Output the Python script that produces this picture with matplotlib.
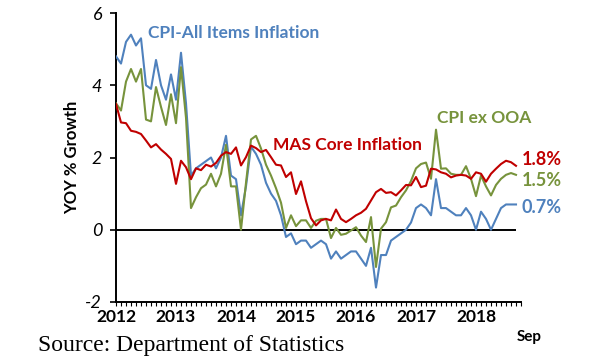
import matplotlib
matplotlib.use("Agg")
import matplotlib.pyplot as plt
import numpy as np

# monthly data, Jan 2012 .. Sep 2018 (81 months)
cpi_all = [4.8, 4.6, 5.2, 5.4, 5.1, 5.3, 4.0, 3.9, 4.7, 4.0, 3.6, 4.3,
           3.6, 4.9, 3.5, 1.5, 1.7, 1.8, 1.9, 2.0, 1.7, 2.0, 2.6, 1.5,
           1.4, 0.4, 1.2, 2.3, 2.1, 1.8, 1.3, 1.0, 0.8, 0.4, -0.2, -0.1,
           -0.4, -0.3, -0.3, -0.5, -0.4, -0.3, -0.4, -0.8, -0.6, -0.8, -0.7, -0.6,
           -0.6, -0.8, -1.0, -0.5, -1.6, -0.7, -0.7, -0.3, -0.2, -0.1, 0.0, 0.2,
           0.6, 0.7, 0.6, 0.4, 1.4, 0.6, 0.6, 0.5, 0.4, 0.4, 0.6, 0.4,
           0.0, 0.5, 0.3, 0.0, 0.3, 0.6, 0.7, 0.7, 0.7]
cpi_ex_ooa = [3.5, 3.3, 4.1, 4.45, 4.1, 4.45, 3.05, 3.0, 3.95, 3.4, 2.9, 3.75,
              2.95, 4.5, 3.1, 0.6, 0.9, 1.15, 1.25, 1.55, 1.2, 1.55, 2.35, 1.2,
              1.2, 0.0, 1.3, 2.5, 2.6, 2.25, 1.8, 1.5, 1.15, 0.75, 0.05, 0.4,
              0.1, 0.26, 0.26, 0.05, 0.25, 0.3, 0.3, -0.23, 0.05, -0.14, -0.11, -0.02,
              0.07, -0.16, -0.34, 0.35, -1.03, 0.03, 0.21, 0.62, 0.67, 0.9, 1.09, 1.35,
              1.7, 1.82, 1.86, 1.41, 2.77, 1.69, 1.7, 1.55, 1.52, 1.52, 1.76, 1.41,
              0.93, 1.5, 1.2, 0.95, 1.24, 1.41, 1.52, 1.57, 1.52]
mas_core = [3.48, 2.97, 2.95, 2.74, 2.71, 2.65, 2.47, 2.28, 2.37, 2.22, 2.1, 1.96,
            1.27, 1.91, 1.73, 1.4, 1.7, 1.65, 1.8, 1.75, 1.85, 2.05, 2.15, 2.1,
            2.28, 1.78, 2.01, 2.33, 2.26, 2.15, 2.21, 2.01, 1.8, 1.78, 1.46, 1.59,
            0.99, 1.34, 0.79, 0.32, 0.12, 0.26, 0.3, 0.26, 0.56, 0.3, 0.21, 0.3,
            0.4, 0.47, 0.58, 0.81, 1.04, 1.13, 1.02, 1.04, 0.95, 1.09, 1.24, 1.23,
            1.46, 1.18, 1.22, 1.69, 1.67, 1.59, 1.55, 1.45, 1.5, 1.52, 1.5, 1.41,
            1.59, 1.55, 1.33, 1.55, 1.69, 1.82, 1.91, 1.87, 1.77]
years = ["2012", "2013", "2014", "2015", "2016", "2017", "2018"]
last_labels = ["1.8%", "1.5%", "0.7%"]

blue = "#4F81BD"
green = "#77933C"
red = "#C00000"

months = np.arange(len(cpi_all))

fig = plt.figure(figsize=(6, 3.59), dpi=100)
ax = fig.add_axes([116/600, 1 - 302/359, (521-116)/600, (302-13)/359])

ax.plot(months, cpi_all, color=blue, lw=1.5, zorder=3)
ax.plot(months, cpi_ex_ooa, color=green, lw=1.5, zorder=3)
ax.plot(months, mas_core, color=red, lw=1.5, zorder=3)
ax.hlines(0, months[0], months[-1], color="black", lw=1.4, zorder=2)

ax.set_xlim(0, 81)
ax.set_ylim(-2, 6)
ax.set_yticks([-2, 0, 2, 4, 6])
ax.set_yticklabels(["-2", "0", "2", "4", "6"], fontstyle="italic",
                   fontfamily="Lato", fontsize=13)
ax.set_xticks(np.arange(0, 82, 1), minor=True)
ax.set_xticks(np.arange(0, 84, 12)[:len(years)])
ax.set_xticklabels(years, fontweight="bold", fontfamily="Lato", fontsize=12.5)
ax.tick_params(axis="x", which="both", length=3, width=0.8, pad=2)
ax.tick_params(axis="y", length=4, width=1.2, pad=6)

for s in ["top", "right"]:
    ax.spines[s].set_visible(False)
ax.spines["left"].set_linewidth(1.4)
ax.spines["bottom"].set_linewidth(1.4)

ax.set_ylabel("YOY % Growth", fontweight="bold", fontfamily="Lato",
              fontsize=12, labelpad=4)

ax.text(6.4, 5.45, "CPI-All Items Inflation", color=blue, fontweight="bold",
        fontfamily="Lato", fontsize=12.5, va="center")
ax.text(31.4, 2.35, "MAS Core Inflation", color=red, fontweight="bold",
        fontfamily="Lato", fontsize=12.5, va="center")
ax.text(64.2, 3.1, "CPI ex OOA", color=green, fontweight="bold",
        fontfamily="Lato", fontsize=12.5, va="center")
for lab, val, col in zip(last_labels, [1.95, 1.35, 0.62], [red, green, blue]):
    ax.text(81.2, val, lab, color=col, fontweight="bold", fontfamily="Lato",
            fontsize=13, va="center", clip_on=False)

fig.text(529/600, 1 - 337/359, "Sep", fontweight="bold", fontfamily="Lato",
         fontsize=11, ha="center", va="center")
fig.text(38/600, 1 - 346/359, "Source: Department of Statistics",
         fontfamily="Liberation Serif", fontsize=17, ha="left", va="center")

fig.savefig("out.png", dpi=100)
